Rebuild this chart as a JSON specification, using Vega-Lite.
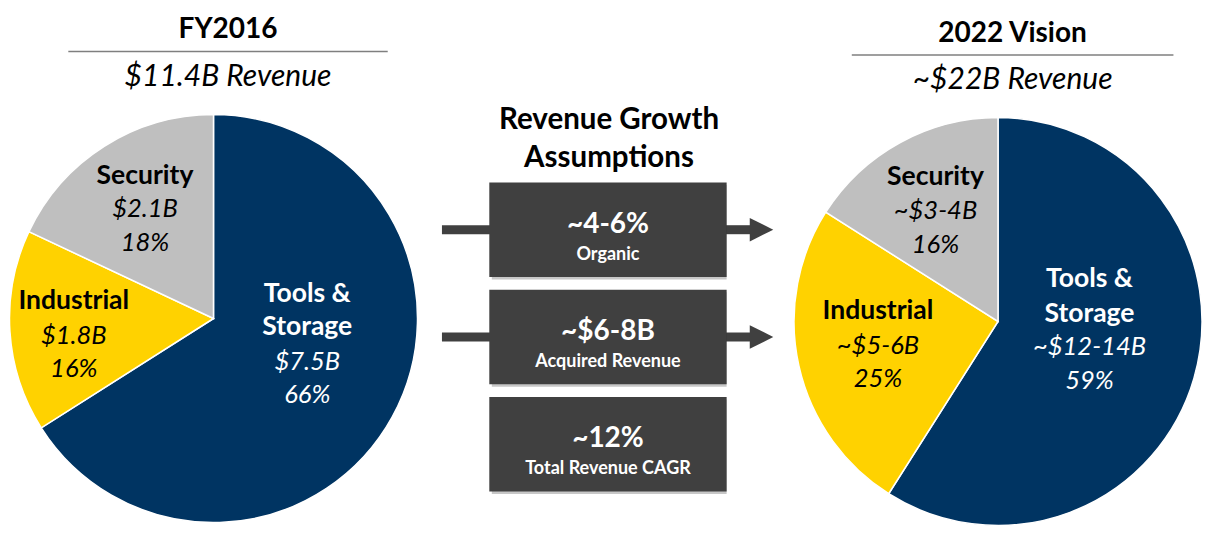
{
  "$schema": "https://vega.github.io/schema/vega-lite/v6.json",
  "padding": {"left": 0, "right": 0, "top": 15.5, "bottom": 0},
  "background": "white",
  "config": {"view": {"stroke": null}, "font": "Lato"},
  "datasets": {
    "headers": [
      {"period": "FY2016", "total": "$11.4B Revenue"},
      {"period": "2022 Vision", "total": "~$22B Revenue"}
    ],
    "fy2016": [
      {"segment": "Tools & Storage", "label": "Tools &\nStorage", "rank": 1, "share": 66, "revenue": "$7.5B", "pct": "66%"},
      {"segment": "Industrial", "label": "Industrial", "rank": 2, "share": 16, "revenue": "$1.8B", "pct": "16%"},
      {"segment": "Security", "label": "Security", "rank": 3, "share": 18, "revenue": "$2.1B", "pct": "18%"}
    ],
    "vision2022": [
      {"segment": "Tools & Storage", "label": "Tools &\nStorage", "rank": 1, "share": 59, "revenue": "~$12-14B", "pct": "59%"},
      {"segment": "Industrial", "label": "Industrial", "rank": 2, "share": 25, "revenue": "~$5-6B", "pct": "25%"},
      {"segment": "Security", "label": "Security", "rank": 3, "share": 16, "revenue": "~$3-4B", "pct": "16%"}
    ],
    "heading": [{"line": "Revenue Growth"}, {"line": "Assumptions"}],
    "assumptions": [
      {"value": "~4-6%", "desc": "Organic", "kind": "component"},
      {"value": "~$6-8B", "desc": "Acquired Revenue", "kind": "component"},
      {"value": "~12%", "desc": "Total Revenue CAGR", "kind": "total"}
    ]
  },
  "spacing": 0,
  "hconcat": [
    {
      "spacing": 9,
      "vconcat": [
        {
          "width": 427, "height": 51,
          "data": {"name": "headers"},
          "transform": [{"filter": "datum.period === 'FY2016'"}],
          "title": {"text": "FY2016", "font": "Lato", "fontSize": 28, "fontWeight": "bold", "color": "black", "anchor": "middle", "dx": 14.5, "offset": -15.6, "baseline": "alphabetic"},
          "layer": [
            {"mark": {"type": "rule", "color": "#7F7F7F", "strokeWidth": 1.5},
             "encoding": {
               "x": {"datum": 16, "type": "quantitative", "scale": {"domain": [0, 100], "nice": false}, "axis": null},
               "x2": {"datum": 90.8},
               "y": {"datum": 1, "type": "quantitative", "scale": {"domain": [0, 1], "nice": false}, "axis": null}
             }},
            {"mark": {"type": "text", "font": "Lato", "fontStyle": "italic", "fontSize": 30, "baseline": "middle", "color": "black"},
             "encoding": {"x": {"datum": 53.4, "type": "quantitative"}, "y": {"datum": 0.5, "type": "quantitative"}, "text": {"field": "total", "type": "nominal"}}}
          ]
        },
        {
          "width": 427, "height": 408,
          "data": {"name": "fy2016"},
          "encoding": {
            "theta": {"field": "share", "type": "quantitative", "stack": true},
            "order": {"field": "rank", "type": "quantitative", "sort": "ascending"}
          },
          "layer": [
            {"mark": {"type": "arc", "stroke": "white", "strokeWidth": 1.5},
             "encoding": {"color": {"field": "segment", "type": "nominal", "scale": {"domain": ["Tools & Storage", "Industrial", "Security"], "range": ["#003462", "#FFD200", "#BFBFBF"]}, "legend": null}}},
            {"mark": {"type": "text", "radius": 107, "dy": -68.5, "lineHeight": 33, "lineBreak": "\n", "font": "Lato", "fontSize": 26.5, "fontWeight": "bold", "color": "white", "baseline": "alphabetic"},
             "encoding": {"text": {"condition": {"test": "datum.segment === 'Tools & Storage'", "field": "label", "type": "nominal"}, "value": ""}}},
            {"mark": {"type": "text", "radius": 107, "dy": -0.5, "font": "Lato", "fontSize": 25.5, "fontStyle": "italic", "color": "white", "baseline": "alphabetic"},
             "encoding": {"text": {"condition": {"test": "datum.segment === 'Tools & Storage'", "field": "revenue", "type": "nominal"}, "value": ""}}},
            {"mark": {"type": "text", "radius": 107, "dy": 32.5, "font": "Lato", "fontSize": 25.5, "fontStyle": "italic", "color": "white", "baseline": "alphabetic"},
             "encoding": {"text": {"condition": {"test": "datum.segment === 'Tools & Storage'", "field": "pct", "type": "nominal"}, "value": ""}}},
            {"mark": {"type": "text", "radius": 140, "dy": -17.8, "font": "Lato", "fontSize": 26.5, "fontWeight": "bold", "color": "black", "baseline": "alphabetic"},
             "encoding": {"text": {"condition": {"test": "datum.segment === 'Industrial'", "field": "label", "type": "nominal"}, "value": ""}}},
            {"mark": {"type": "text", "radius": 140, "dy": 17.2, "font": "Lato", "fontSize": 25.5, "fontStyle": "italic", "color": "black", "baseline": "alphabetic"},
             "encoding": {"text": {"condition": {"test": "datum.segment === 'Industrial'", "field": "revenue", "type": "nominal"}, "value": ""}}},
            {"mark": {"type": "text", "radius": 140, "dy": 50.2, "font": "Lato", "fontSize": 25.5, "fontStyle": "italic", "color": "black", "baseline": "alphabetic"},
             "encoding": {"text": {"condition": {"test": "datum.segment === 'Industrial'", "field": "pct", "type": "nominal"}, "value": ""}}},
            {"mark": {"type": "text", "radius": 123, "dx": -2.6, "dy": -31.1, "font": "Lato", "fontSize": 26.5, "fontWeight": "bold", "color": "black", "baseline": "alphabetic"},
             "encoding": {"text": {"condition": {"test": "datum.segment === 'Security'", "field": "label", "type": "nominal"}, "value": ""}}},
            {"mark": {"type": "text", "radius": 123, "dx": -2.6, "dy": 1.9, "font": "Lato", "fontSize": 25.5, "fontStyle": "italic", "color": "black", "baseline": "alphabetic"},
             "encoding": {"text": {"condition": {"test": "datum.segment === 'Security'", "field": "revenue", "type": "nominal"}, "value": ""}}},
            {"mark": {"type": "text", "radius": 123, "dx": -2.6, "dy": 35.9, "font": "Lato", "fontSize": 25.5, "fontStyle": "italic", "color": "black", "baseline": "alphabetic"},
             "encoding": {"text": {"condition": {"test": "datum.segment === 'Security'", "field": "pct", "type": "nominal"}, "value": ""}}}
          ]
        }
      ]
    },
    {
      "spacing": 0,
      "vconcat": [
        {
          "width": 356, "height": 131,
          "data": {"name": "heading"},
          "mark": {"type": "text", "font": "Lato", "fontSize": 29.5, "fontWeight": "bold", "baseline": "middle", "color": "black", "dx": 4},
          "encoding": {
            "y": {"field": "line", "type": "nominal", "sort": null, "scale": {"type": "band", "paddingInner": 0.553, "paddingOuter": 1, "align": 0.786}, "axis": null},
            "text": {"field": "line", "type": "nominal"}
          }
        },
        {
          "width": 356, "height": 309,
          "data": {"name": "assumptions"},
          "encoding": {
            "y": {"field": "value", "type": "nominal", "sort": null, "scale": {"type": "band", "domain": ["~4-6%", "~$6-8B", "~12%"], "paddingInner": 0.12, "paddingOuter": 0}, "axis": null}
          },
          "layer": [
            {"transform": [{"filter": "datum.kind === 'component'"}],
             "mark": {"type": "rule", "color": "#404040", "strokeWidth": 9},
             "encoding": {"x": {"datum": -1.399, "type": "quantitative", "scale": {"domain": [-1.525, 1.475], "nice": false, "zero": false}, "axis": null}, "x2": {"datum": -0.95}}},
            {"transform": [{"filter": "datum.kind === 'component'"}],
             "mark": {"type": "rule", "color": "#404040", "strokeWidth": 9},
             "encoding": {"x": {"datum": 0.95, "type": "quantitative"}, "x2": {"datum": 1.2}}},
            {"transform": [{"filter": "datum.kind === 'component'"}],
             "mark": {"type": "point", "shape": "M-1,-1L1,0L-1,1Z", "size": 552, "filled": true, "color": "#404040", "opacity": 1},
             "encoding": {"x": {"datum": 1.294, "type": "quantitative"}}},
            {"mark": {"type": "rect", "color": "#000000", "opacity": 0.22, "xOffset": 2.5, "yOffset": 2.5},
             "encoding": {"x": {"datum": -1, "type": "quantitative"}, "x2": {"datum": 1}}},
            {"mark": {"type": "rect", "color": "#404040"},
             "encoding": {"x": {"datum": -1, "type": "quantitative"}, "x2": {"datum": 1}}},
            {"mark": {"type": "text", "font": "Lato", "fontSize": 28, "fontWeight": "bold", "color": "white", "baseline": "alphabetic", "dy": 3},
             "encoding": {"x": {"datum": 0, "type": "quantitative"}, "text": {"field": "value", "type": "nominal"}}},
            {"mark": {"type": "text", "font": "Lato", "fontSize": 18, "fontWeight": "bold", "color": "white", "baseline": "alphabetic", "dy": 30},
             "encoding": {"x": {"datum": 0, "type": "quantitative"}, "text": {"field": "desc", "type": "nominal"}}}
          ]
        }
      ]
    },
    {
      "spacing": 12,
      "vconcat": [
        {
          "width": 430, "height": 51,
          "data": {"name": "headers"},
          "transform": [{"filter": "datum.period === '2022 Vision'"}],
          "title": {"text": "2022 Vision", "font": "Lato", "fontSize": 28, "fontWeight": "bold", "color": "black", "anchor": "middle", "dx": 14.5, "offset": -18.6, "baseline": "alphabetic"},
          "layer": [
            {"mark": {"type": "rule", "color": "#7F7F7F", "strokeWidth": 1.5},
             "encoding": {
               "x": {"datum": 16, "type": "quantitative", "scale": {"domain": [0, 100], "nice": false}, "axis": null},
               "x2": {"datum": 90.8},
               "y": {"datum": 0.93, "type": "quantitative", "scale": {"domain": [0, 1], "nice": false}, "axis": null}
             }},
            {"mark": {"type": "text", "font": "Lato", "fontStyle": "italic", "fontSize": 30, "baseline": "middle", "color": "black"},
             "encoding": {"x": {"datum": 53.4, "type": "quantitative"}, "y": {"datum": 0.45, "type": "quantitative"}, "text": {"field": "total", "type": "nominal"}}}
          ]
        },
        {
          "width": 430, "height": 408,
          "data": {"name": "vision2022"},
          "encoding": {
            "theta": {"field": "share", "type": "quantitative", "stack": true},
            "order": {"field": "rank", "type": "quantitative", "sort": "ascending"}
          },
          "layer": [
            {"mark": {"type": "arc", "stroke": "white", "strokeWidth": 1.5},
             "encoding": {"color": {"field": "segment", "type": "nominal", "scale": {"domain": ["Tools & Storage", "Industrial", "Security"], "range": ["#003462", "#FFD200", "#BFBFBF"]}, "legend": null}}},
            {"mark": {"type": "text", "radius": 95.3, "dy": -60.9, "lineHeight": 35, "lineBreak": "\n", "font": "Lato", "fontSize": 26.5, "fontWeight": "bold", "color": "white", "baseline": "alphabetic"},
             "encoding": {"text": {"condition": {"test": "datum.segment === 'Tools & Storage'", "field": "label", "type": "nominal"}, "value": ""}}},
            {"mark": {"type": "text", "radius": 95.3, "dy": 7.1, "font": "Lato", "fontSize": 25.5, "fontStyle": "italic", "color": "white", "baseline": "alphabetic"},
             "encoding": {"text": {"condition": {"test": "datum.segment === 'Tools & Storage'", "field": "revenue", "type": "nominal"}, "value": ""}}},
            {"mark": {"type": "text", "radius": 95.3, "dy": 41.1, "font": "Lato", "fontSize": 25.5, "fontStyle": "italic", "color": "white", "baseline": "alphabetic"},
             "encoding": {"text": {"condition": {"test": "datum.segment === 'Tools & Storage'", "field": "pct", "type": "nominal"}, "value": ""}}},
            {"mark": {"type": "text", "radius": 123, "dy": -29.1, "font": "Lato", "fontSize": 26.5, "fontWeight": "bold", "color": "black", "baseline": "alphabetic"},
             "encoding": {"text": {"condition": {"test": "datum.segment === 'Industrial'", "field": "label", "type": "nominal"}, "value": ""}}},
            {"mark": {"type": "text", "radius": 123, "dy": 5.9, "font": "Lato", "fontSize": 25.5, "fontStyle": "italic", "color": "black", "baseline": "alphabetic"},
             "encoding": {"text": {"condition": {"test": "datum.segment === 'Industrial'", "field": "revenue", "type": "nominal"}, "value": ""}}},
            {"mark": {"type": "text", "radius": 123, "dy": 38.9, "font": "Lato", "fontSize": 25.5, "fontStyle": "italic", "color": "black", "baseline": "alphabetic"},
             "encoding": {"text": {"condition": {"test": "datum.segment === 'Industrial'", "field": "pct", "type": "nominal"}, "value": ""}}},
            {"mark": {"type": "text", "radius": 129.7, "dy": -22.6, "font": "Lato", "fontSize": 26.5, "fontWeight": "bold", "color": "black", "baseline": "alphabetic"},
             "encoding": {"text": {"condition": {"test": "datum.segment === 'Security'", "field": "label", "type": "nominal"}, "value": ""}}},
            {"mark": {"type": "text", "radius": 129.7, "dy": 11.4, "font": "Lato", "fontSize": 25.5, "fontStyle": "italic", "color": "black", "baseline": "alphabetic"},
             "encoding": {"text": {"condition": {"test": "datum.segment === 'Security'", "field": "revenue", "type": "nominal"}, "value": ""}}},
            {"mark": {"type": "text", "radius": 129.7, "dy": 45.4, "font": "Lato", "fontSize": 25.5, "fontStyle": "italic", "color": "black", "baseline": "alphabetic"},
             "encoding": {"text": {"condition": {"test": "datum.segment === 'Security'", "field": "pct", "type": "nominal"}, "value": ""}}}
          ]
        }
      ]
    }
  ]
}
